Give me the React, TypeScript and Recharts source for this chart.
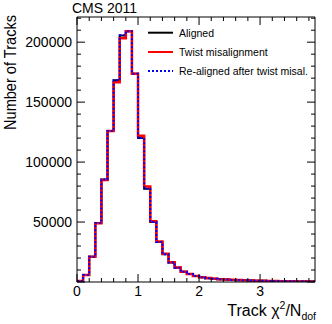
import React from 'react';
import { ComposedChart, Line, XAxis, YAxis } from 'recharts';

// Histogram bins: lower edges (width 0.1) on Track chi2/Ndof
const binEdges: number[] = [0, 0.1, 0.2, 0.3, 0.4, 0.5, 0.6, 0.7, 0.8, 0.9, 1.0, 1.1, 1.2, 1.3, 1.4, 1.5, 1.6, 1.7, 1.8, 1.9, 2.0, 2.1, 2.2, 2.3, 2.4, 2.5, 2.6, 2.7, 2.8, 2.9, 3.0, 3.1, 3.2, 3.3, 3.4, 3.5, 3.6, 3.7, 3.8];
const xUpperEdge = 3.9;

const aligned: number[] = [800, 5800, 21000, 49200, 85500, 126000, 168200, 205600, 209100, 173700, 120100, 77800, 50000, 33400, 23200, 16300, 11900, 8500, 6600, 5000, 3900, 3200, 2700, 2300, 2000, 1750, 1550, 1380, 1230, 1100, 980, 880, 790, 710, 640, 570, 510, 460, 420];
const twist: number[] = [800, 5800, 21000, 49000, 85000, 126000, 166500, 203200, 209100, 173700, 122000, 79600, 50600, 33800, 23500, 16500, 12100, 8600, 6700, 5100, 4000, 3250, 2750, 2350, 2030, 1780, 1570, 1400, 1250, 1120, 1000, 900, 800, 720, 650, 580, 520, 470, 430];
const realigned: number[] = [800, 5800, 21000, 49200, 85500, 126000, 168300, 205800, 209200, 173700, 120100, 77800, 50000, 33400, 23200, 16300, 11900, 8500, 6600, 5000, 3900, 3200, 2700, 2300, 2000, 1750, 1550, 1380, 1230, 1100, 980, 880, 790, 710, 640, 570, 510, 460, 420];

const xMajorTicks: number[] = [0, 1, 2, 3];
const xAllTicks: number[] = [0, 0.2, 0.4, 0.6, 0.8, 1, 1.2, 1.4, 1.6, 1.8, 2, 2.2, 2.4, 2.6, 2.8, 3, 3.2, 3.4, 3.6, 3.8];
const yMajorTicks: number[] = [0, 50000, 100000, 150000, 200000];
const yAllTicks: number[] = [0, 10000, 20000, 30000, 40000, 50000, 60000, 70000, 80000, 90000, 100000, 110000, 120000, 130000, 140000, 150000, 160000, 170000, 180000, 190000, 200000, 210000, 220000];

const seriesNames = ['Aligned', 'Twist misalignment', 'Re-aligned after twist misal.'];
const title = 'CMS 2011';

const FONT = '"Liberation Sans", Arial, Helvetica, sans-serif';

const data = [
  ...binEdges.map((x, i) => ({ x, aligned: aligned[i], twist: twist[i], realigned: realigned[i] })),
  { x: xUpperEdge, aligned: aligned[aligned.length - 1], twist: twist[twist.length - 1], realigned: realigned[realigned.length - 1] },
];

const BottomTick = (props: any) => {
  const { x, y, payload } = props;
  const v = payload.value;
  const major = xMajorTicks.includes(v);
  return (
    <g>
      <line x1={x} x2={x} y1={y} y2={y - (major ? 8 : 4)} stroke="#000" strokeWidth={1} />
      {major && (
        <text x={x} y={y + 14} textAnchor="middle" fontSize={14} fontFamily={FONT} fill="#000">{v}</text>
      )}
    </g>
  );
};

const TopTick = (props: any) => {
  const { x, y, payload } = props;
  const major = xMajorTicks.includes(payload.value);
  return <line x1={x} x2={x} y1={y} y2={y + (major ? 8 : 4)} stroke="#000" strokeWidth={1} />;
};

const LeftTick = (props: any) => {
  const { x, y, payload } = props;
  const v = payload.value;
  const major = yMajorTicks.includes(v);
  return (
    <g>
      <line x1={x} x2={x + (major ? 8 : 4)} y1={y} y2={y} stroke="#000" strokeWidth={1} />
      {major && v !== 0 && (
        <text x={x - 5} y={y + 5} textAnchor="end" fontSize={14} fontFamily={FONT} fill="#000">{v}</text>
      )}
    </g>
  );
};

const RightTick = (props: any) => {
  const { x, y, payload } = props;
  const major = yMajorTicks.includes(payload.value);
  return <line x1={x} x2={x - (major ? 8 : 4)} y1={y} y2={y} stroke="#000" strokeWidth={1} />;
};

export default function App() {
  return (
    <div style={{ position: 'absolute', left: 0, top: 0, width: 332, height: 324, background: '#fff' }}>
      <ComposedChart width={332} height={324} data={data} margin={{ top: 0, right: 0, bottom: 0, left: 0 }}>
        <XAxis xAxisId="b" type="number" dataKey="x" domain={[0, 3.9]} ticks={xAllTicks} interval={0}
          height={42} tickSize={0} tickMargin={0} tick={<BottomTick />} axisLine={{ stroke: '#000', strokeWidth: 1 }} allowDataOverflow />
        <XAxis xAxisId="t" orientation="top" type="number" dataKey="x" domain={[0, 3.9]} ticks={xAllTicks} interval={0}
          height={17} tickSize={0} tickMargin={0} tick={<TopTick />} axisLine={{ stroke: '#000', strokeWidth: 1 }} allowDataOverflow />
        <YAxis yAxisId="l" type="number" domain={[0, 221000]} ticks={yAllTicks} interval={0}
          width={77} tickSize={0} tickMargin={0} tick={<LeftTick />} axisLine={{ stroke: '#000', strokeWidth: 1 }} allowDataOverflow />
        <YAxis yAxisId="r" orientation="right" type="number" domain={[0, 221000]} ticks={yAllTicks} interval={0}
          width={17} tickSize={0} tickMargin={0} tick={<RightTick />} axisLine={{ stroke: '#000', strokeWidth: 1 }} allowDataOverflow />
        <Line xAxisId="b" yAxisId="l" type="stepAfter" dataKey="aligned" stroke="#000000" strokeWidth={2} dot={false} isAnimationActive={false} />
        <Line xAxisId="b" yAxisId="l" type="stepAfter" dataKey="twist" stroke="#ff0000" strokeWidth={2.5} dot={false} isAnimationActive={false} />
        <Line xAxisId="b" yAxisId="l" type="stepAfter" dataKey="realigned" stroke="#0000ff" strokeWidth={2} strokeDasharray="2 2" dot={false} isAnimationActive={false} />
      </ComposedChart>
      <svg width={332} height={324} style={{ position: 'absolute', left: 0, top: 0, pointerEvents: 'none' }}>
        <text x={72} y={13} fontSize={14} fontFamily={FONT} fill="#000">{title}</text>
        <text transform="translate(16,130) rotate(-90)" x={0} y={0} fontSize={16.5} fontFamily={FONT} fill="#000"
          textLength={115} lengthAdjust="spacingAndGlyphs">Number of Tracks</text>
        <text x={316} y={316} textAnchor="end" fontSize={16} fontFamily={FONT} fill="#000">
          Track χ<tspan fontSize={10.5} dy={-7}>2</tspan><tspan dy={7}>/N</tspan><tspan fontSize={10.5} dy={4}>dof</tspan>
        </text>
        <g fontFamily={FONT} fontSize={10.5} fill="#000">
          <line x1={148} x2={173} y1={32.7} y2={32.7} stroke="#000" strokeWidth={2} />
          <text x={179} y={36.5}>{seriesNames[0]}</text>
          <line x1={148} x2={173} y1={52} y2={52} stroke="#ff0000" strokeWidth={2} />
          <text x={179} y={56}>{seriesNames[1]}</text>
          <line x1={148} x2={173} y1={71} y2={71} stroke="#0000ff" strokeWidth={2} strokeDasharray="2 2" />
          <text x={179} y={75}>{seriesNames[2]}</text>
        </g>
      </svg>
    </div>
  );
}
